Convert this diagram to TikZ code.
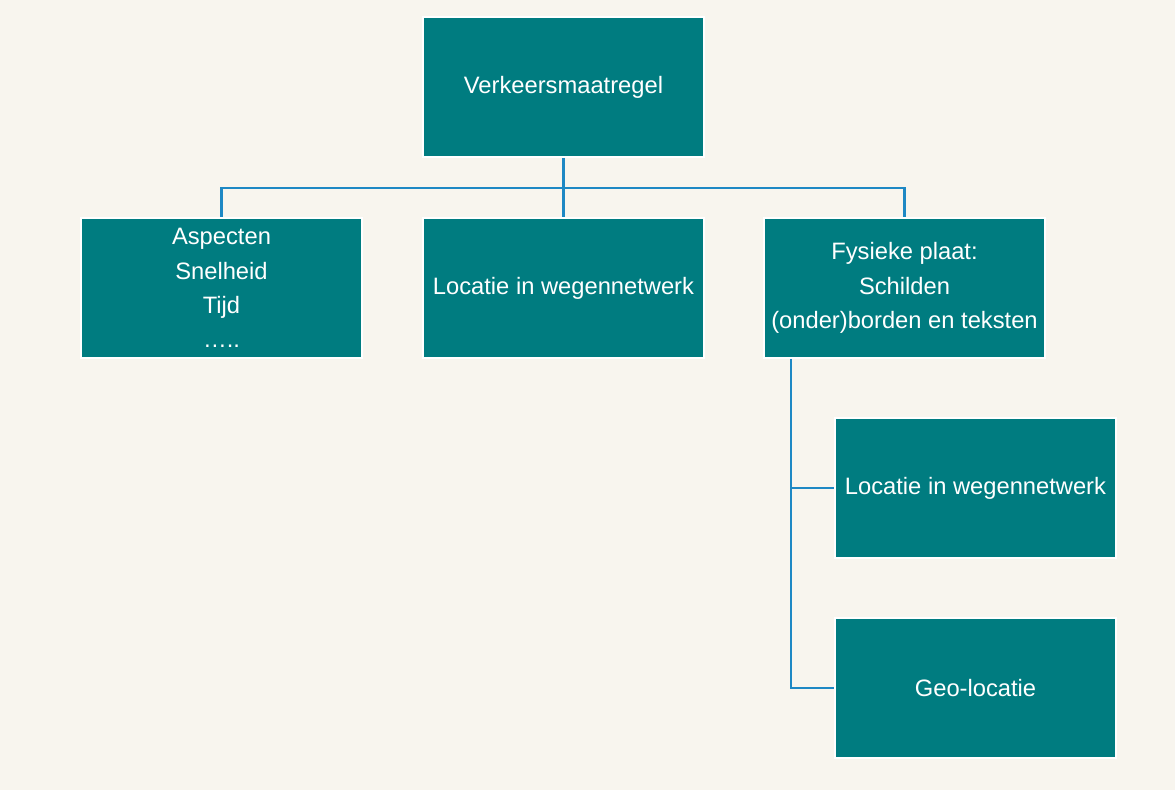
\documentclass[tikz,border=0pt]{standalone}
\usepackage{fontspec}
\setmainfont{Liberation Sans}
\usepackage{tikz}
\definecolor{bgcream}{HTML}{F8F5EE}
\definecolor{boxteal}{HTML}{007C80}
\definecolor{linkblue}{HTML}{1E88C4}

\begin{document}
\begin{tikzpicture}[
        box/.style={draw=white, line width=1.1pt, fill=boxteal, text=white,
            minimum width=5.62cm, minimum height=2.8cm, align=center,
            inner sep=0pt, font=\fontsize{13.5}{19.5}\selectfont},
        link/.style={draw=linkblue, line width=1.5pt}
    ]
        \fill[bgcream] (0,0) rectangle (23.5,-15.8);
        \useasboundingbox (0,0) rectangle (23.5,-15.8);
        \node[box] (maatregel) at (11.27,-1.74) {Verkeersmaatregel};
        \node[box] (aspecten) at (4.43,-5.76) {Aspecten\\Snelheid\\Tijd\\…..};
        \node[box] (locatie) at (11.27,-5.76) {Locatie in wegennetwerk};
        \node[box] (plaat) at (18.09,-5.76) {Fysieke plaat:\\Schilden\\(onder)borden en teksten};
        \node[box] (platloc) at (19.51,-9.76) {Locatie in wegennetwerk};
        \node[box] (geoloc) at (19.51,-13.76) {Geo-locatie};
        \coordinate (split) at ([yshift=-0.6cm]maatregel.south);
        \coordinate (branch) at ([xshift=0.56cm]plaat.south west);
        \draw[link] (maatregel.south) -- (split);
        \draw[link] (split) -| (aspecten.north);
        \draw[link] (split) -| (plaat.north);
        \draw[link] (split) -- (locatie.north);
        \draw[link] (branch) |- (platloc.west);
        \draw[link] (branch) |- (geoloc.west);
    \end{tikzpicture}
\end{document}
